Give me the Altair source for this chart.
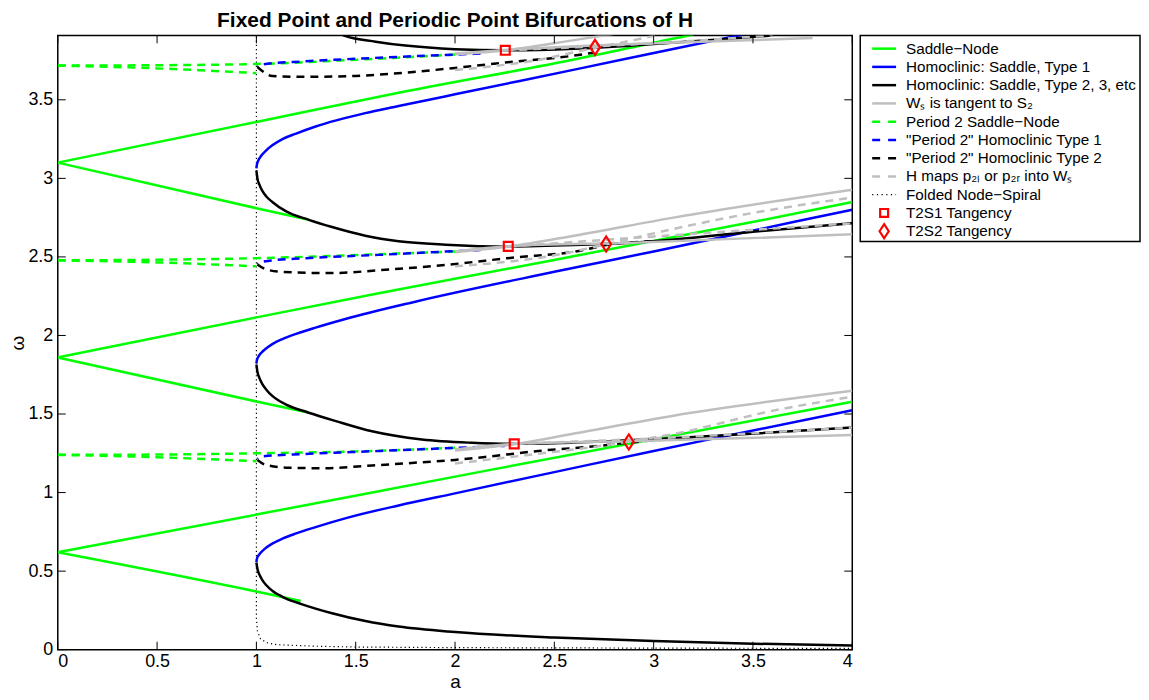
import altair as alt
import pandas as pd

TITLE = "Fixed Point and Periodic Point Bifurcations of H"
X_TICKS = [0, 0.5, 1, 1.5, 2, 2.5, 3, 3.5, 4]
Y_TICKS = [0, 0.5, 1, 1.5, 2, 2.5, 3, 3.5]
X_DOMAIN = [0, 4]
Y_DOMAIN = [0, 3.91]

# ---------------- Saddle-Node (green solid) ----------------
sn1_up_a = [0.0, 1.0, 2.152, 4.0]
sn1_up_w = [0.62, 0.86, 1.138, 1.578]
sn1_lo_a = [0.0, 1.0, 1.223]
sn1_lo_w = [0.62, 0.37, 0.31]
sn2_up_a = [0.0, 1.0, 1.616, 3.53, 4.0]
sn2_up_w = [1.86, 2.115, 2.269, 2.73, 2.85]
sn2_lo_a = [0.0, 1.0, 1.26]
sn2_lo_w = [1.86, 1.58, 1.51]
sn3_up_a = [0.0, 1.0, 1.716, 2.619, 3.14, 3.2]
sn3_up_w = [3.10, 3.359, 3.545, 3.761, 3.90, 3.915]
sn3_lo_a = [0.0, 1.0, 1.264]
sn3_lo_w = [3.10, 2.81, 2.736]

# ---------------- Homoclinic Type 1 (blue solid) ----------------
h1_1_a = [1.0, 1.003, 1.01, 1.025, 1.047, 1.08, 1.131, 1.2, 1.298, 1.465, 1.716, 2.0, 2.488, 3.0, 3.345, 4.0]
h1_1_w = [0.557, 0.58, 0.598, 0.622, 0.647, 0.675, 0.707, 0.74, 0.78, 0.842, 0.918, 0.995, 1.127, 1.265, 1.355, 1.524]
h1_2_a = [1.0, 1.003, 1.01, 1.025, 1.047, 1.08, 1.131, 1.2, 1.298, 1.448, 1.80, 2.5, 3.0, 3.715, 4.0]
h1_2_w = [1.822, 1.845, 1.865, 1.89, 1.915, 1.945, 1.977, 2.01, 2.05, 2.105, 2.215, 2.405, 2.535, 2.725, 2.80]
h1_3_a = [1.0, 1.003, 1.01, 1.025, 1.047, 1.08, 1.131, 1.2, 1.298, 1.548, 1.716, 2.0, 2.619, 3.225, 3.45]
h1_3_w = [3.063, 3.09, 3.115, 3.145, 3.175, 3.21, 3.25, 3.285, 3.33, 3.415, 3.46, 3.535, 3.697, 3.857, 3.915]

# ---------------- Homoclinic Type 2, 3 ... (black solid) ----------------
h2_1_a = [1.0, 1.005, 1.015, 1.03, 1.05, 1.08, 1.147, 1.223, 1.381, 1.549, 1.716, 2.0, 2.5, 3.0, 3.5, 4.0]
h2_1_w = [0.555, 0.515, 0.478, 0.443, 0.41, 0.375, 0.327, 0.292, 0.232, 0.182, 0.147, 0.112, 0.078, 0.055, 0.038, 0.027]
h2_2_a = [1.0, 1.005, 1.015, 1.03, 1.05, 1.08, 1.15, 1.26, 1.4, 1.582, 1.833, 2.084, 2.30, 2.6, 3.0, 3.5, 4.0]
h2_2_w = [1.815, 1.77, 1.73, 1.69, 1.655, 1.615, 1.56, 1.51, 1.455, 1.39, 1.338, 1.317, 1.31, 1.318, 1.34, 1.375, 1.414]
h2_3_a = [1.0, 1.005, 1.015, 1.03, 1.05, 1.08, 1.15, 1.264, 1.381, 1.548, 1.716, 1.952, 2.27, 2.6, 3.0, 3.5, 4.0]
h2_3_w = [3.05, 3.0, 2.96, 2.92, 2.885, 2.85, 2.79, 2.736, 2.69, 2.635, 2.60, 2.578, 2.566, 2.575, 2.60, 2.66, 2.714]
h2_4_a = [1.40, 1.449, 1.6, 1.75, 2.0, 2.25, 2.6, 3.0, 3.4, 3.6]
h2_4_w = [3.93, 3.905, 3.87, 3.845, 3.822, 3.815, 3.825, 3.855, 3.89, 3.91]

# ---------------- Ws tangent to S2 (gray solid) ----------------
ws1a_a = [2.0, 2.3, 2.6, 3.093, 4.0]
ws1a_w = [1.268, 1.308, 1.376, 1.488, 1.648]
ws1b_a = [2.0, 2.3, 2.925, 4.0]
ws1b_w = [1.275, 1.31, 1.329, 1.367]
ws2a_a = [2.0, 2.27, 2.6, 3.1, 4.0]
ws2a_w = [2.53, 2.566, 2.635, 2.75, 2.928]
ws2b_a = [2.0, 2.27, 2.9, 4.0]
ws2b_w = [2.535, 2.568, 2.59, 2.645]
ws3a_a = [2.0, 2.253, 2.6, 2.8]
ws3a_w = [3.79, 3.815, 3.88, 3.92]
ws3b_a = [2.0, 2.253, 3.0, 3.8]
ws3b_w = [3.795, 3.817, 3.86, 3.893]

# ---------------- Period 2 Saddle-Node (green dashed) ----------------
p2sn1_up_a = [0.0, 0.5, 1.0, 1.5, 2.0]
p2sn1_up_w = [1.24, 1.242, 1.25, 1.262, 1.285]
p2sn1_lo_a = [0.0, 0.5, 1.0]
p2sn1_lo_w = [1.24, 1.225, 1.20]
p2sn2_up_a = [0.0, 0.5, 1.0, 1.716, 2.0]
p2sn2_up_w = [2.478, 2.482, 2.492, 2.522, 2.535]
p2sn2_lo_a = [0.0, 0.5, 1.0]
p2sn2_lo_w = [2.478, 2.465, 2.44]
p2sn3_up_a = [0.0, 0.5, 1.0, 1.5, 2.0]
p2sn3_up_w = [3.718, 3.72, 3.728, 3.755, 3.788]
p2sn3_lo_a = [0.0, 0.5, 1.0]
p2sn3_lo_w = [3.718, 3.70, 3.67]

# ---------------- "Period 2" Homoclinic Type 1 (blue dashed) ----------------
p2h1_1_a = [1.005, 1.03, 1.248, 1.582, 1.917, 2.084, 2.25]
p2h1_1_w = [1.215, 1.23, 1.246, 1.263, 1.28, 1.288, 1.297]
p2h1_2_a = [1.005, 1.03, 1.25, 1.616, 1.952, 2.15]
p2h1_2_w = [2.455, 2.47, 2.492, 2.513, 2.534, 2.545]
p2h1_3_a = [1.005, 1.03, 1.248, 1.582, 2.0, 2.15]
p2h1_3_w = [3.71, 3.725, 3.745, 3.766, 3.788, 3.795]

# ---------------- "Period 2" Homoclinic Type 2 (black dashed) ----------------
p2h2_1_a = [1.005, 1.05, 1.164, 1.331, 1.582, 1.833, 2.0, 2.168, 2.42, 2.723, 2.875, 3.2]
p2h2_1_w = [1.208, 1.175, 1.158, 1.155, 1.172, 1.193, 1.208, 1.229, 1.265, 1.297, 1.318, 1.352]
p2h2_2_a = [1.005, 1.05, 1.131, 1.381, 1.616, 1.952, 2.287, 2.623, 2.761, 3.0]
p2h2_2_w = [2.452, 2.42, 2.405, 2.397, 2.415, 2.449, 2.495, 2.538, 2.575, 2.60]
p2h2_3_a = [1.005, 1.08, 1.248, 1.499, 1.75, 2.0, 2.251, 2.586, 2.70]
p2h2_3_w = [3.709, 3.652, 3.646, 3.652, 3.673, 3.703, 3.737, 3.779, 3.80]

# ---------------- H maps p2l or p2r into Ws (gray dashed) ----------------
hm1a_a = [2.0, 2.471, 2.673, 2.875, 3.093, 3.597, 4.0]
hm1a_w = [1.185, 1.255, 1.286, 1.325, 1.371, 1.52, 1.61]
hm1b_a = [2.3, 3.0, 4.0]
hm1b_w = [1.31, 1.345, 1.414]
hm2a_a = [2.0, 2.5, 2.761, 3.0, 3.5, 4.0]
hm2a_w = [2.44, 2.51, 2.58, 2.65, 2.78, 2.878]
hm2b_a = [2.27, 3.0, 4.0]
hm2b_w = [2.566, 2.63, 2.714]
hm3a_a = [2.0, 2.4, 2.70, 2.9, 3.05]
hm3a_w = [3.69, 3.75, 3.83, 3.88, 3.92]
hm3b_a = [2.253, 3.0, 3.6]
hm3b_w = [3.815, 3.86, 3.91]

# ---------------- Folded Node-Spiral (dotted) ----------------
fold_a = [1.0, 1.0, 1.005, 1.02, 1.05, 1.1, 1.3, 1.5, 2.0, 3.0, 4.0]
fold_w = [3.93, 0.2, 0.12, 0.07, 0.045, 0.032, 0.022, 0.017, 0.013, 0.01, 0.008]

# ---------------- Tangency markers ----------------
t2s1_a = [2.298, 2.268, 2.253]
t2s1_w = [1.31, 2.567, 3.815]
t2s2_a = [2.875, 2.761, 2.705]
t2s2_w = [1.322, 2.582, 3.834]

LEGEND_KINDS = ["sn", "h1", "h2", "ws", "p2sn", "p2h1", "p2h2", "hmap", "fold", "t2s1", "t2s2"]
LEGEND_LABELS = [
    "Saddle\u2212Node",
    "Homoclinic: Saddle, Type 1",
    "Homoclinic: Saddle, Type 2, 3, etc",
    "W\u209b is tangent to S\u2082",
    "Period 2 Saddle\u2212Node",
    "\"Period 2\" Homoclinic Type 1",
    "\"Period 2\" Homoclinic Type 2",
    "H maps p\u2082\u2097 or p\u2082\u1d63 into W\u209b",
    "Folded Node\u2212Spiral",
    "T2S1 Tangency",
    "T2S2 Tangency",
]

CURVES = [
    ("sn1_up", "sn", sn1_up_a, sn1_up_w), ("sn1_lo", "sn", sn1_lo_a, sn1_lo_w),
    ("sn2_up", "sn", sn2_up_a, sn2_up_w), ("sn2_lo", "sn", sn2_lo_a, sn2_lo_w),
    ("sn3_up", "sn", sn3_up_a, sn3_up_w), ("sn3_lo", "sn", sn3_lo_a, sn3_lo_w),
    ("h1_1", "h1", h1_1_a, h1_1_w), ("h1_2", "h1", h1_2_a, h1_2_w), ("h1_3", "h1", h1_3_a, h1_3_w),
    ("h2_1", "h2", h2_1_a, h2_1_w), ("h2_2", "h2", h2_2_a, h2_2_w),
    ("h2_3", "h2", h2_3_a, h2_3_w), ("h2_4", "h2", h2_4_a, h2_4_w),
    ("ws1a", "ws", ws1a_a, ws1a_w), ("ws1b", "ws", ws1b_a, ws1b_w),
    ("ws2a", "ws", ws2a_a, ws2a_w), ("ws2b", "ws", ws2b_a, ws2b_w),
    ("ws3a", "ws", ws3a_a, ws3a_w), ("ws3b", "ws", ws3b_a, ws3b_w),
    ("p2sn1_up", "p2sn", p2sn1_up_a, p2sn1_up_w), ("p2sn1_lo", "p2sn", p2sn1_lo_a, p2sn1_lo_w),
    ("p2sn2_up", "p2sn", p2sn2_up_a, p2sn2_up_w), ("p2sn2_lo", "p2sn", p2sn2_lo_a, p2sn2_lo_w),
    ("p2sn3_up", "p2sn", p2sn3_up_a, p2sn3_up_w), ("p2sn3_lo", "p2sn", p2sn3_lo_a, p2sn3_lo_w),
    ("p2h1_1", "p2h1", p2h1_1_a, p2h1_1_w), ("p2h1_2", "p2h1", p2h1_2_a, p2h1_2_w),
    ("p2h1_3", "p2h1", p2h1_3_a, p2h1_3_w),
    ("p2h2_1", "p2h2", p2h2_1_a, p2h2_1_w), ("p2h2_2", "p2h2", p2h2_2_a, p2h2_2_w),
    ("p2h2_3", "p2h2", p2h2_3_a, p2h2_3_w),
    ("hm1a", "hmap", hm1a_a, hm1a_w), ("hm1b", "hmap", hm1b_a, hm1b_w),
    ("hm2a", "hmap", hm2a_a, hm2a_w), ("hm2b", "hmap", hm2b_a, hm2b_w),
    ("hm3a", "hmap", hm3a_a, hm3a_w), ("hm3b", "hmap", hm3b_a, hm3b_w),
    ("fold", "fold", fold_a, fold_w),
]

# styles: color, dash, width, interpolation, dash offset
STYLE = {
    "fold": ("#000000", [1.2, 3], 1.2, "linear", 0),
    "sn": ("#00ff00", [1, 0], 2.5, "monotone", 0),
    "p2sn": ("#00ff00", [8, 6], 2.5, "monotone", 0),
    "h1": ("#0000ff", [1, 0], 2.5, "monotone", 0),
    "h2": ("#000000", [1, 0], 2.5, "monotone", 0),
    "p2h1": ("#0000ff", [8, 6], 2.5, "monotone", 7),
    "p2h2": ("#000000", [8, 6], 2.5, "monotone", 0),
    "ws": ("#bfbfbf", [1, 0], 2.5, "monotone", 0),
    "hmap": ("#bfbfbf", [8, 6], 2.5, "monotone", 0),
}
DRAW_ORDER = ["fold", "sn", "p2sn", "h1", "h2", "p2h1", "p2h2", "ws", "hmap"]

FONT = "Liberation Sans"
W, H = 798, 617
TICK = 8

rows = []
for name, kind, xa, ya in CURVES:
    for i, (xv, yv) in enumerate(zip(xa, ya)):
        rows.append({"curve": name, "kind": kind, "i": i, "a": xv, "w": yv})
lines_df = pd.DataFrame(rows)

mk_rows = [{"kind": "t2s1", "a": xv, "w": yv} for xv, yv in zip(t2s1_a, t2s1_w)]
mk_rows += [{"kind": "t2s2", "a": xv, "w": yv} for xv, yv in zip(t2s2_a, t2s2_w)]
mk_df = pd.DataFrame(mk_rows)

xscale = alt.Scale(domain=X_DOMAIN, nice=False, zero=False)
yscale = alt.Scale(domain=Y_DOMAIN, nice=False, zero=False)
xaxis = alt.Axis(values=X_TICKS, title="a", format="~g", labelPadding=3, titlePadding=2, titleFontSize=19)
yaxis = alt.Axis(values=Y_TICKS, title="\u03c9", format="~g", labelPadding=5, titlePadding=0, titleFontSize=19)
X = alt.X("a:Q", scale=xscale, axis=xaxis)
Y = alt.Y("w:Q", scale=yscale, axis=yaxis)

layers = []
for kind in DRAW_ORDER:
    color, dash, sw, interp, off = STYLE[kind]
    mark_kw = dict(color=color, strokeWidth=sw, interpolate=interp, clip=True)
    if dash[1] != 0:
        mark_kw["strokeDash"] = dash
        if off:
            mark_kw["strokeDashOffset"] = off
    layers.append(
        alt.Chart(lines_df).transform_filter(alt.datum.kind == kind)
        .mark_line(**mark_kw)
        .encode(x=X, y=Y, detail="curve:N", order="i:Q")
    )

square = alt.Chart(mk_df).transform_filter(alt.datum.kind == "t2s1").mark_point(
    shape="square", filled=False, color="#ff0000", strokeWidth=2.2, size=80, opacity=1
).encode(x=X, y=Y)
diamond_path = "M0,-1L0.65,0L0,1L-0.65,0Z"
diamond = alt.Chart(mk_df).transform_filter(alt.datum.kind == "t2s2").mark_point(
    shape=diamond_path, filled=False, color="#ff0000", strokeWidth=2.2, size=230, opacity=1
).encode(x=X, y=Y)

xt_df = pd.DataFrame({"a": X_TICKS})
yt_df = pd.DataFrame({"w": Y_TICKS})
tick_bottom = alt.Chart(xt_df).mark_rule(color="black", strokeWidth=1).encode(
    x=X, y=alt.value(H), y2=alt.value(H - TICK))
tick_top = alt.Chart(xt_df).mark_rule(color="black", strokeWidth=1).encode(
    x=X, y=alt.value(0), y2=alt.value(TICK))
tick_left = alt.Chart(yt_df).mark_rule(color="black", strokeWidth=1).encode(
    y=Y, x=alt.value(0), x2=alt.value(TICK))
tick_right = alt.Chart(yt_df).mark_rule(color="black", strokeWidth=1).encode(
    y=Y, x=alt.value(W), x2=alt.value(W - TICK))

title_df = pd.DataFrame({"label": [TITLE]})
title_mark = alt.Chart(title_df).mark_text(
    font=FONT, fontSize=21, fontWeight="bold", align="center", baseline="top", color="black"
).encode(text="label:N", x=alt.value(W / 2), y=alt.value(-25))

main = alt.layer(*layers, square, diamond, tick_bottom, tick_top, tick_left, tick_right, title_mark).properties(
    width=W, height=H,
)

# ---------------- legend ----------------
LW, LH = 281, 207
ROW0, ROWSTEP = 13.3, 18.34
leg_df = pd.DataFrame({"row": list(range(len(LEGEND_KINDS))), "kind": LEGEND_KINDS, "label": LEGEND_LABELS})
ly = alt.Y("row:Q", scale=alt.Scale(domain=[-ROW0 / ROWSTEP, (LH - ROW0) / ROWSTEP], reverse=True, nice=False, zero=False), axis=None)

leg_layers = []
LEG_DASH = {"p2sn": [8, 8], "p2h1": [8, 8], "p2h2": [8, 8], "hmap": [8, 8], "fold": [1.2, 3.5]}
for kind in DRAW_ORDER:
    color, dash, sw, interp, off = STYLE[kind]
    kw = dict(color=color, strokeWidth=sw)
    if kind in LEG_DASH:
        kw["strokeDash"] = LEG_DASH[kind]
    leg_layers.append(
        alt.Chart(leg_df).transform_filter(alt.datum.kind == kind).mark_rule(**kw)
        .encode(y=ly, x=alt.value(12), x2=alt.value(36))
    )
leg_sq = alt.Chart(leg_df).transform_filter(alt.datum.kind == "t2s1").mark_point(
    shape="square", filled=False, color="#ff0000", strokeWidth=2.2, size=64, opacity=1
).encode(y=ly, x=alt.value(24))
leg_di = alt.Chart(leg_df).transform_filter(alt.datum.kind == "t2s2").mark_point(
    shape=diamond_path, filled=False, color="#ff0000", strokeWidth=2.2, size=200, opacity=1
).encode(y=ly, x=alt.value(24))
leg_text = alt.Chart(leg_df).mark_text(
    align="left", baseline="middle", font=FONT, fontSize=15.3, color="black"
).encode(y=ly, x=alt.value(46), text="label:N")

legend = alt.layer(*leg_layers, leg_sq, leg_di, leg_text).properties(width=LW, height=LH)

chart = alt.hconcat(main, legend, spacing=8, bounds="flush",
                    padding={"left": 0, "top": 0, "right": 0, "bottom": 0}).configure_view(
    stroke="black", strokeWidth=1.5
).configure_axis(
    labelFont=FONT, titleFont=FONT, labelFontSize=18, titleFontSize=20, titleFontWeight="normal",
    labelColor="black", titleColor="black", ticks=False, tickSize=0, domain=False, grid=False,
).configure_axisY(titleAngle=-90)

chart.save("out.html", embed_options={"renderer": "svg", "actions": False})
